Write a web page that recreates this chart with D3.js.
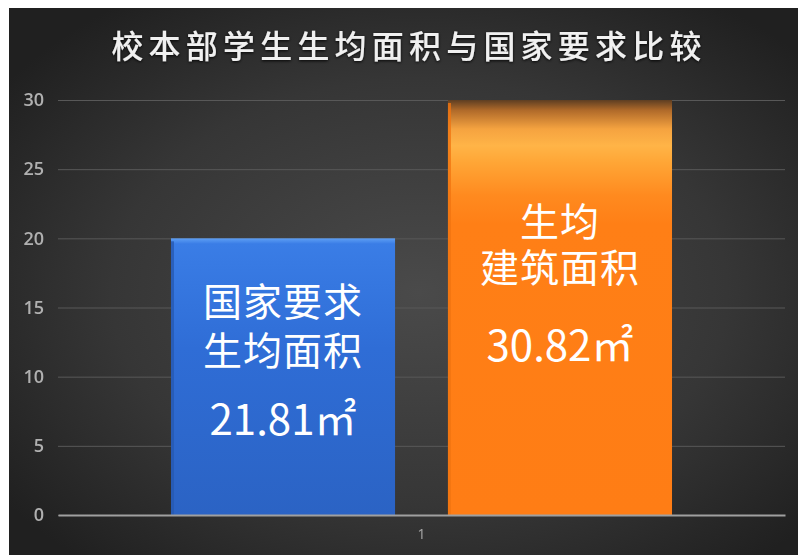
<!doctype html>
<meta charset='utf-8'>
<title>校本部学生生均面积与国家要求比较</title>

<style type="text/css">
	html, body {
		margin:0;
		padding:0;
		background:white;
	}
	#container svg {
		display:block;
	}
	text {
		font-family:"Noto Sans CJK SC", "Noto Sans", sans-serif;
	}
</style>

<div id='container'></div>

<script src="https://cdnjs.cloudflare.com/ajax/libs/d3/7.8.5/d3.min.js" charset="utf-8"></script>
<script>

	// données
	var titre = '校本部学生生均面积与国家要求比较'
	var categories = ['1']
	var series = ['国家要求生均面积', '生均建筑面积']
	var barValues = [20, 30.82]
	var barLines = [['国家要求', '生均面积'], ['生均', '建筑面积']]
	var barLabels = ['21.81㎡', '30.82㎡']
	var yTicks = [0, 5, 10, 15, 20, 25, 30]

	var W = 798, H = 555
	var margin = {left:58, right:13, top:100, bottom:40}

	var svg = d3.select('#container').append('svg')
		.attr('width', W)
		.attr('height', H)

	var defs = svg.append('defs')

	// fond : dégradé radial sombre
	var bg = defs.append('radialGradient')
		.attr('id', 'bg')
		.attr('cx', '52%').attr('cy', '52%').attr('r', '65%')
	bg.append('stop').attr('offset', '0%').attr('stop-color', '#4a4a4a')
	bg.append('stop').attr('offset', '60%').attr('stop-color', '#363636')
	bg.append('stop').attr('offset', '100%').attr('stop-color', '#202020')

	var blueGrad = defs.append('linearGradient')
		.attr('id', 'blueGrad').attr('x1', 0).attr('y1', 0).attr('x2', 0).attr('y2', 1)
	blueGrad.append('stop').attr('offset', '0%').attr('stop-color', '#5e9ff4')
	blueGrad.append('stop').attr('offset', '2%').attr('stop-color', '#3a7de6')
	blueGrad.append('stop').attr('offset', '40%').attr('stop-color', '#2f6dd6')
	blueGrad.append('stop').attr('offset', '100%').attr('stop-color', '#2b63c4')

	var orangeGrad = defs.append('linearGradient')
		.attr('id', 'orangeGrad').attr('x1', 0).attr('y1', 0).attr('x2', 0).attr('y2', 1)
	orangeGrad.append('stop').attr('offset', '0%').attr('stop-color', '#5e3e22')
	orangeGrad.append('stop').attr('offset', '2.5%').attr('stop-color', '#b06a2a')
	orangeGrad.append('stop').attr('offset', '7%').attr('stop-color', '#f5a340')
	orangeGrad.append('stop').attr('offset', '11%').attr('stop-color', '#ffb447')
	orangeGrad.append('stop').attr('offset', '15%').attr('stop-color', '#ffa636')
	orangeGrad.append('stop').attr('offset', '23%').attr('stop-color', '#ff8a1f')
	orangeGrad.append('stop').attr('offset', '30%').attr('stop-color', '#ff7f16')
	orangeGrad.append('stop').attr('offset', '100%').attr('stop-color', '#ff7d15')

	var glow = defs.append('filter').attr('id', 'glow')
		.attr('x', '-10%').attr('y', '-30%').attr('width', '120%').attr('height', '160%')
	glow.append('feDropShadow')
		.attr('dx', 0).attr('dy', 1).attr('stdDeviation', 1.6)
		.attr('flood-color', '#000').attr('flood-opacity', 0.9)

	var soft = defs.append('filter').attr('id', 'soft')
	soft.append('feGaussianBlur').attr('stdDeviation', 0.5)

	svg.append('rect')
		.attr('x', 9).attr('y', 8)
		.attr('width', W - 9).attr('height', H - 8)
		.attr('fill', 'url(#bg)')

	// titre
	svg.append('text')
		.attr('x', 409)
		.attr('y', 58)
		.attr('text-anchor', 'middle')
		.attr('fill', '#f0f0f0')
		.style('font-size', '32px')
		.style('font-weight', 500)
		.style('letter-spacing', '5.2px')
		.attr('filter', 'url(#glow)')
		.text(titre)

	// échelles
	var x0 = d3.scaleBand()
		.domain(categories)
		.range([margin.left, W - margin.right])
		.paddingInner(0)
		.paddingOuter(0.2255)

	var x1 = d3.scaleBand()
		.domain(series)
		.range([0, x0.bandwidth()])
		.paddingInner(0.191)
		.paddingOuter(0)

	var y = d3.scaleLinear()
		.domain([0, 30])
		.range([H - margin.bottom, margin.top])
		.clamp(true)

	// grille + axe y
	var yAxis = svg.append('g')
		.attr('transform', 'translate(' + margin.left + ',0)')
		.call(d3.axisLeft(y).tickValues(yTicks)
			.tickSize(-(W - margin.left - margin.right))
			.tickPadding(14))
	yAxis.select('.domain').remove()
	yAxis.selectAll('.tick line')
		.attr('stroke', '#585858')
		.attr('stroke-width', 1)
	yAxis.selectAll('.tick text')
		.attr('fill', '#b0b0b0')
		.attr('filter', 'url(#soft)')
		.style('font-family', '"Open Sans", "Noto Sans", sans-serif')
		.style('font-weight', 600)
		.style('font-size', '18px')

	// barres
	var colors = ['url(#blueGrad)', 'url(#orangeGrad)']
	var edge = ['#2759b0', '#f07410']

	var grp = svg.append('g')
		.selectAll('g')
		.data(categories)
		.join('g')
		.attr('transform', function(d){ return 'translate(' + x0(d) + ',0)' })

	var bars = grp.selectAll('g.bar')
		.data(series.map(function(s, i){
			return {name:s, value:barValues[i], i:i}
		}))
		.join('g')
		.attr('class', 'bar')

	bars.append('rect')
		.attr('x', function(d){ return x1(d.name) })
		.attr('y', function(d){ return y(d.value) })
		.attr('width', x1.bandwidth())
		.attr('height', function(d){ return y(0) - y(d.value) })
		.attr('fill', function(d){ return colors[d.i] })

	// petite arête gauche (effet biseau)
	bars.append('rect')
		.attr('x', function(d){ return x1(d.name) })
		.attr('y', function(d){ return y(d.value) + 3 })
		.attr('width', 3)
		.attr('height', function(d){ return y(0) - y(d.value) - 3 })
		.attr('fill', function(d){ return edge[d.i] })
		.attr('opacity', 0.8)

	// textes dans les barres (un seul <text> par bloc, une ligne par tspan)
	var firstLineY = [302, 222]
	var lineGap = [49, 46]
	var valY = [420, 346]

	bars.each(function(d){
		var g = d3.select(this)
		var cx = x1(d.name) + x1.bandwidth() / 2
		var t = g.append('text')
			.attr('text-anchor', 'middle')
			.attr('fill', '#ffffff')
			.style('font-size', '39px')
			.style('letter-spacing', '1px')
		barLines[d.i].forEach(function(s, k){
			t.append('tspan')
				.attr('x', cx)
				.attr('y', firstLineY[d.i] + k * lineGap[d.i])
				.attr('dy', '0.35em')
				.text(s)
		})
		g.append('text')
			.attr('x', cx)
			.attr('y', valY[d.i])
			.attr('dy', '0.35em')
			.attr('text-anchor', 'middle')
			.attr('fill', '#ffffff')
			.style('font-size', '42px')
			.text(barLabels[d.i])
	})

	// axe x
	var xAxis = svg.append('g')
		.attr('transform', 'translate(0,' + y(0) + ')')
		.call(d3.axisBottom(x0).tickSize(0).tickPadding(14))
	xAxis.select('.domain')
		.attr('stroke', '#a0a0a0')
		.attr('stroke-width', 2)
	xAxis.selectAll('.tick text')
		.attr('fill', '#a8a8a8')
		.attr('filter', 'url(#soft)')
		.style('font-family', '"Open Sans", "Noto Sans", sans-serif')
		.style('font-size', '14px')

</script>
